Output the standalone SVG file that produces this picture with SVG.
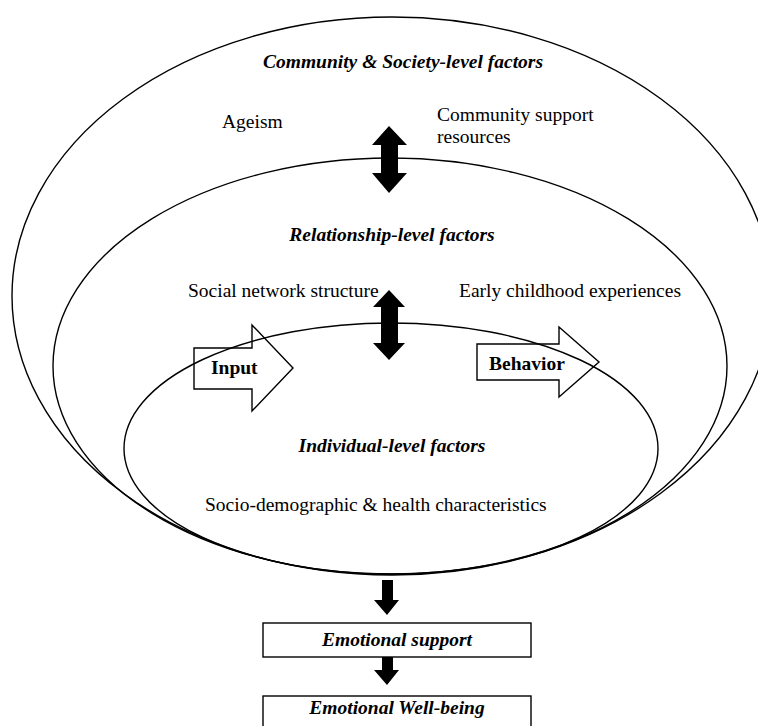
<svg xmlns="http://www.w3.org/2000/svg" width="758" height="726" viewBox="0 0 758 726">
<style>
.ring{fill:none;stroke:#000;stroke-width:1.4}
.t{font-family:"Liberation Serif","Times New Roman",serif;font-size:19.5px;fill:#000}
.bi{font-weight:bold;font-style:italic}
.b{font-weight:bold}
.blk{fill:#000;stroke:none}
.hollow{fill:none;stroke:#000;stroke-width:1.4}
.box{fill:#fff;stroke:#000;stroke-width:1.4}
</style>
<rect width="758" height="726" fill="#fff"/>
<g id="community-level">
<ellipse class="ring" cx="392" cy="296" rx="380" ry="279"/>
<text class="t bi" x="403" y="68" text-anchor="middle">Community &amp; Society-level factors</text>
<text class="t" x="222" y="128">Ageism</text>
<text class="t" x="437" y="121">Community support</text>
<text class="t" x="437" y="143">resources</text>
</g>
<g id="relationship-level">
<ellipse class="ring" cx="390" cy="366" rx="337" ry="208"/>
<text class="t bi" x="392" y="241" text-anchor="middle">Relationship-level factors</text>
<text class="t" x="188" y="297">Social network structure</text>
<text class="t" x="459" y="297">Early childhood experiences</text>
</g>
<g id="individual-level">
<ellipse class="ring" cx="391" cy="448.5" rx="267" ry="125.5"/>
<text class="t bi" x="392" y="452" text-anchor="middle">Individual-level factors</text>
<text class="t" x="205" y="511">Socio-demographic &amp; health characteristics</text>
</g>
<g id="input">
<polygon class="hollow" points="194,348 252,348 252,325 293,368 252,411 252,389 194,389"/>
<text class="t b" x="211" y="374">Input</text>
</g>
<g id="behavior">
<polygon class="hollow" points="477,344 559,344 559,327 599,362 559,397 559,380 477,380"/>
<text class="t b" x="489" y="370">Behavior</text>
</g>
<g id="emotional-support">
<rect class="box" x="263" y="623" width="268" height="34"/>
<text class="t bi" x="397" y="646" text-anchor="middle">Emotional support</text>
</g>
<g id="emotional-wellbeing">
<rect class="box" x="263" y="696" width="268" height="40"/>
<text class="t bi" x="397" y="714" text-anchor="middle">Emotional Well-being</text>
</g>
<g id="connectors">
<polygon class="blk" points="389,126 407,145 398,145 398,173 407,173 389,193 372,173 381,173 381,145 372,145"/>
<polygon class="blk" points="389,290 405,307 398,307 398,343 405,343 389,360 373,343 381,343 381,307 373,307"/>
<polygon class="blk" points="382,580 393,580 393,600 399,600 387,615 374,600 382,600"/>
<polygon class="blk" points="382,657 393,657 393,670 399,670 387,685 374,670 382,670"/>
</g>
</svg>
